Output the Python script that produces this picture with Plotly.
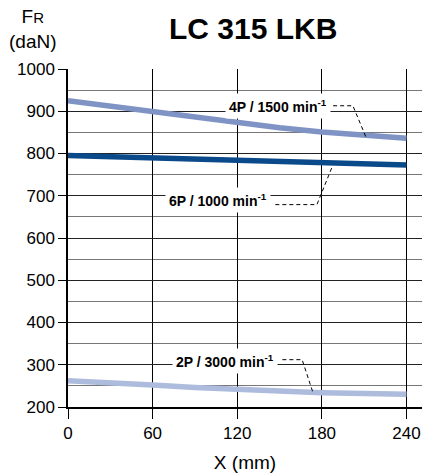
import plotly.graph_objects as go

# values
dist = [0, 30, 60, 90, 120, 150, 180, 210, 240]
fr_4p = [925, 912, 900, 887, 873, 861, 851, 844, 836]
fr_6p = [795, 792, 789, 786, 782, 780, 778, 776, 773]
fr_2p = [262, 258, 252, 246, 241, 237, 234, 232, 230]

labels = ["4P / 1500 min<sup>-1</sup>", "6P / 1000 min<sup>-1</sup>", "2P / 3000 min<sup>-1</sup>"]
label_x = [148.8, 106.2, 111.5]
label_y = [913, 690, 309]
# dashed leader lines from label to curve
lead_x = [[188, 202, 211.5], [147, 176.5, 187], [152, 166, 173.5]]
lead_y = [[913, 913, 837], [679, 679, 766], [312, 312, 236]]

colors = ["#7f94c4", "#0b4a8a", "#adbcdd"]

fig = go.Figure()
for serie, col in zip([fr_4p, fr_6p, fr_2p], colors):
    fig.add_trace(go.Scatter(x=dist, y=serie, mode="lines",
                             line=dict(color=col, width=5.5), showlegend=False))
for lx, ly in zip(lead_x, lead_y):
    fig.add_trace(go.Scatter(x=lx, y=ly, mode="lines",
                             line=dict(color="black", width=1, dash="4px,3px"), showlegend=False))

for t, x, y in zip(labels, label_x, label_y):
    fig.add_annotation(x=x, y=y, text="<b>" + t + "</b>", showarrow=False,
                       bgcolor="white", borderpad=3,
                       font=dict(family="Liberation Sans", size=14, color="black"))

fig.add_annotation(text="<b>LC 315 LKB</b>", xref="paper", yref="paper", x=0.5, y=1.0,
                   xanchor="center", yanchor="bottom", yshift=22, xshift=8, showarrow=False,
                   font=dict(family="Liberation Sans", size=30, color="black"))
fig.add_annotation(text="F<span style='font-size:15px'>R</span><br>(daN)", xref="paper", yref="paper",
                   x=0, y=1.0, xanchor="center", yanchor="bottom", xshift=-35, yshift=15,
                   showarrow=False, align="center",
                   font=dict(family="Liberation Sans", size=19, color="black"))

fig.update_xaxes(range=[0, 251], tickvals=[0, 60, 120, 180, 240], ticks="outside", ticklen=10,
                 tickcolor="black", showgrid=True, gridcolor="black", gridwidth=1,
                 showline=True, linecolor="black", linewidth=1.5, zeroline=False, automargin=False,
                 tickfont=dict(family="Liberation Sans", size=17, color="black"),
                 title=dict(text="X (mm)", font=dict(family="Liberation Sans", size=19, color="black"),
                            standoff=14))
fig.update_yaxes(range=[200, 1000], dtick=100, ticks="outside", ticklen=8, tickcolor="black",
                 showgrid=True, gridcolor="#222", gridwidth=1, automargin=False,
                 minor=dict(dtick=50, showgrid=True, gridcolor="#777", gridwidth=1),
                 showline=True, linecolor="black", linewidth=1.5, zeroline=False,
                 tickfont=dict(family="Liberation Sans", size=17, color="black"))

fig.update_layout(width=422, height=476, margin=dict(l=68, r=0, t=69, b=69),
                  plot_bgcolor="white", paper_bgcolor="white")
fig.write_html("out.html", config={"displayModeBar": False},
               post_script="document.body.style.margin='0';")
